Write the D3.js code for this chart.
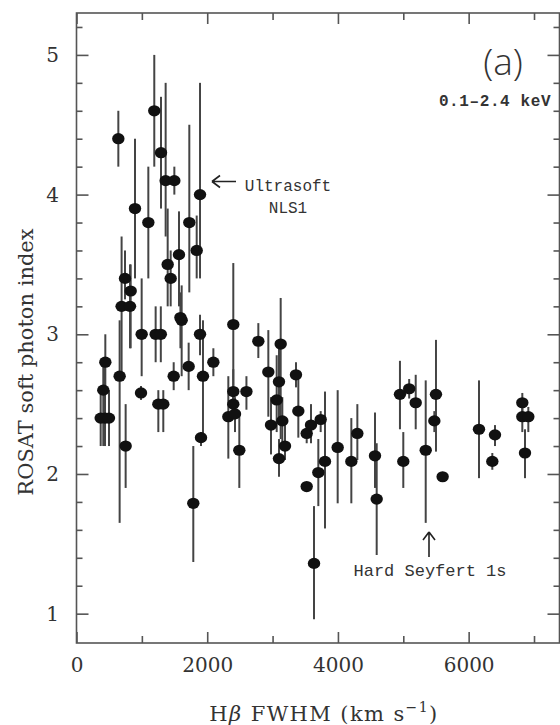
<!DOCTYPE html>
<html>
<head>
<meta charset="utf-8">
<script src="https://cdn.jsdelivr.net/npm/d3@7"></script>
<style>
  body { margin: 0; background: #fff; }
</style>
</head>
<body>
<div id="area1"></div>
<script>
const w1 = 560;
const h1 = 725;

// Data: H-beta FWHM (km/s), ROSAT photon index, error bar ends
const fwhm = [640, 1190, 1293, 1364, 1497, 1890, 895, 1099, 1726, 1839,
              1568, 1395, 1441, 742, 829, 690, 819, 1609, 1590, 997,
              1211, 1290, 1890, 2399, 2782, 3124, 441, 660, 987, 1487,
              1716, 1935, 2094, 410, 370, 436, 497, 752, 1252, 1328,
              1905, 1787, 2323, 2399, 2399, 2425, 2491, 2600, 2935, 2976,
              3063, 3098, 3149, 3098, 3190, 3358, 3394, 3522, 3588, 3736,
              3522, 3700, 3802, 3634, 3996, 4205, 4297, 4567, 4593, 4949,
              5000, 5090, 5190, 5343, 5500, 5475, 5602, 6158, 6403, 6362,
              6821, 6821, 6913, 6862];
const photonIndex = [4.40, 4.60, 4.30, 4.10, 4.10, 4.00, 3.90, 3.80, 3.80, 3.60,
                     3.57, 3.50, 3.40, 3.40, 3.31, 3.20, 3.20, 3.10, 3.12, 3.00,
                     3.00, 3.00, 3.00, 3.07, 2.95, 2.93, 2.80, 2.70, 2.58, 2.70,
                     2.77, 2.70, 2.80, 2.60, 2.40, 2.40, 2.40, 2.20, 2.50, 2.50,
                     2.26, 1.79, 2.41, 2.59, 2.50, 2.43, 2.17, 2.59, 2.73, 2.35,
                     2.53, 2.66, 2.38, 2.11, 2.20, 2.71, 2.45, 2.29, 2.35, 2.39,
                     1.91, 2.01, 2.09, 1.36, 2.19, 2.09, 2.29, 2.13, 1.82, 2.57,
                     2.09, 2.61, 2.51, 2.17, 2.57, 2.38, 1.98, 2.32, 2.28, 2.09,
                     2.51, 2.41, 2.41, 2.15];
const errTop = [4.60, 5.00, 4.70, 4.80, 4.20, 4.80, 4.40, 4.20, 4.50, 3.85,
                3.88, 3.90, 3.60, 3.60, 3.50, 3.70, 3.50, 3.35, 3.30, 3.40,
                3.20, 3.20, 3.14, 3.51, 3.08, 3.26, 3.00, 3.10, 2.63, 2.80,
                2.94, 3.10, 2.90, 2.80, 2.60, 2.80, 2.60, 2.50, 2.60, 2.60,
                2.30, 2.20, 2.70, 2.75, 2.60, 2.55, 2.44, 2.70, 3.03, 2.55,
                2.85, 2.90, 2.55, 2.25, 2.35, 2.80, 2.70, 2.35, 2.50, 2.45,
                1.91, 2.25, 2.59, 1.77, 2.60, 2.40, 2.50, 2.44, 2.22, 2.81,
                2.30, 2.68, 2.71, 2.67, 2.96, 2.45, 1.98, 2.67, 2.35, 2.15,
                2.58, 2.50, 2.48, 2.32];
const errBottom = [4.20, 4.20, 3.90, 3.70, 4.00, 3.40, 3.40, 3.40, 3.30, 3.40,
                   3.20, 3.20, 3.20, 3.25, 2.90, 2.70, 2.90, 2.70, 2.90, 2.70,
                   2.80, 2.80, 2.85, 2.40, 2.83, 2.25, 2.60, 1.65, 2.53, 2.60,
                   2.60, 2.25, 2.70, 2.20, 2.20, 2.20, 2.20, 1.90, 2.30, 2.30,
                   2.20, 1.37, 2.11, 2.45, 2.40, 2.30, 1.90, 2.46, 2.41, 2.14,
                   2.30, 2.40, 2.20, 1.98, 2.10, 2.62, 2.26, 2.22, 2.22, 2.30,
                   1.91, 1.77, 1.61, 0.96, 1.79, 1.79, 2.10, 1.90, 1.42, 2.32,
                   1.90, 2.54, 2.32, 1.65, 2.16, 2.30, 1.98, 1.97, 2.20, 2.03,
                   2.40, 2.30, 2.30, 1.97];

// Tick values
const xMajorTicks = [0, 2000, 4000, 6000];
const xMinorTicks = [1000, 3000, 5000, 7000];
const yMajorTicks = [1, 2, 3, 4, 5];
const yMinorTicks = [1.2, 1.4, 1.6, 1.8, 2.2, 2.4, 2.6, 2.8, 3.2, 3.4, 3.6, 3.8,
                     4.2, 4.4, 4.6, 4.8, 5.2];

let dataset1 = fwhm.map((f, i) => ({
    fwhm: f,
    gamma: photonIndex[i],
    hi: errTop[i],
    lo: errBottom[i]
}));

// Scales
const x = d3.scaleLinear().domain([0, 7390]).range([76.5, 559.5]);
const y = d3.scaleLinear().domain([0.79, 5.3]).range([643, 13]);

// Create SVG element
let svg1 = d3.select("#area1")
            .append("svg")
            .attr("width", w1)
            .attr("height", h1)
            .style("font-family", "'DejaVu Serif', serif");

const frameColor = "#555";

// Frame
svg1.append("rect")
    .attr("x", x.range()[0])
    .attr("y", y.range()[1])
    .attr("width", x.range()[1] - x.range()[0])
    .attr("height", y.range()[0] - y.range()[1])
    .attr("fill", "none")
    .attr("stroke", frameColor)
    .attr("stroke-width", 1.6);

function styleAxis(g) {
    g.select(".domain").remove();
    g.selectAll("line").attr("stroke", frameColor).attr("stroke-width", 1.6);
    g.selectAll("text")
        .attr("fill", "#333")
        .style("font-size", "20px")
        .style("font-family", "'DejaVu Serif', serif");
}

// Bottom axis (inward ticks)
svg1.append("g")
    .attr("transform", "translate(0," + y.range()[0] + ")")
    .call(d3.axisBottom(x).tickValues(xMajorTicks).tickSize(-11).tickPadding(15)
        .tickFormat(d3.format("d")))
    .call(styleAxis);
svg1.append("g")
    .attr("transform", "translate(0," + y.range()[0] + ")")
    .call(d3.axisBottom(x).tickValues(xMinorTicks).tickSize(-7).tickFormat(""))
    .call(styleAxis);

// Top axis
svg1.append("g")
    .attr("transform", "translate(0," + y.range()[1] + ")")
    .call(d3.axisTop(x).tickValues(xMajorTicks).tickSize(-11).tickFormat(""))
    .call(styleAxis);
svg1.append("g")
    .attr("transform", "translate(0," + y.range()[1] + ")")
    .call(d3.axisTop(x).tickValues(xMinorTicks).tickSize(-7).tickFormat(""))
    .call(styleAxis);

// Left axis
svg1.append("g")
    .attr("transform", "translate(" + x.range()[0] + ",0)")
    .call(d3.axisLeft(y).tickValues(yMajorTicks).tickSize(-12).tickPadding(17.5)
        .tickFormat(d3.format("d")))
    .call(styleAxis);
svg1.append("g")
    .attr("transform", "translate(" + x.range()[0] + ",0)")
    .call(d3.axisLeft(y).tickValues(yMinorTicks).tickSize(-6).tickFormat(""))
    .call(styleAxis);

// Right axis
svg1.append("g")
    .attr("transform", "translate(" + x.range()[1] + ",0)")
    .call(d3.axisRight(y).tickValues(yMajorTicks).tickSize(-12).tickFormat(""))
    .call(styleAxis);
svg1.append("g")
    .attr("transform", "translate(" + x.range()[1] + ",0)")
    .call(d3.axisRight(y).tickValues(yMinorTicks).tickSize(-6).tickFormat(""))
    .call(styleAxis);

// Error bars
svg1.append("g")
    .selectAll("line")
    .data(dataset1.filter(d => d.hi > d.lo))
    .enter()
    .append("line")
    .attr("x1", d => x(d.fwhm))
    .attr("x2", d => x(d.fwhm))
    .attr("y1", d => y(d.hi))
    .attr("y2", d => y(d.lo))
    .attr("stroke", "#444")
    .attr("stroke-width", 2);

// Points
svg1.append("g")
    .selectAll("ellipse")
    .data(dataset1)
    .enter()
    .append("ellipse")
    .attr("cx", d => x(d.fwhm))
    .attr("cy", d => y(d.gamma))
    .attr("rx", 6.2)
    .attr("ry", 5.6)
    .attr("fill", "#111");

// Axis titles
svg1.append("text")
    .attr("transform", "translate(33,362) rotate(-90)")
    .attr("text-anchor", "middle")
    .attr("fill", "#333")
    .style("font-size", "21px")
    .text("ROSAT soft photon index");

let xTitle = svg1.append("text")
    .attr("x", 324)
    .attr("y", 721)
    .attr("text-anchor", "middle")
    .attr("fill", "#333")
    .style("font-size", "21px")
    .style("letter-spacing", "1.4px");
xTitle.append("tspan").text("H");
xTitle.append("tspan").style("font-style", "italic").text("β");
xTitle.append("tspan").text(" FWHM (km s");
xTitle.append("tspan").attr("dy", -9).style("font-size", "14px").text("−1");
xTitle.append("tspan").attr("dy", 9).text(")");

// Panel label
svg1.append("text")
    .attr("x", 503)
    .attr("y", 75)
    .attr("text-anchor", "middle")
    .attr("fill", "#333")
    .style("font-family", "'Open Sans', sans-serif")
    .style("font-weight", 300)
    .style("font-size", "37px")
    .text("(a)");

svg1.append("text")
    .attr("x", 495)
    .attr("y", 106)
    .attr("text-anchor", "middle")
    .attr("fill", "#333")
    .style("font-family", "'Liberation Mono', monospace")
    .style("font-weight", "bold")
    .style("font-size", "16px")
    .style("letter-spacing", "0.6px")
    .text("0.1–2.4 keV");

// Annotations
const mono = "'Liberation Mono', monospace";
svg1.append("text")
    .attr("x", 288).attr("y", 191)
    .attr("text-anchor", "middle")
    .attr("fill", "#333")
    .style("font-family", mono)
    .style("font-size", "16px")
    .text("Ultrasoft");
svg1.append("text")
    .attr("x", 288).attr("y", 213)
    .attr("text-anchor", "middle")
    .attr("fill", "#333")
    .style("font-family", mono)
    .style("font-size", "16px")
    .text("NLS1");

// left arrow
svg1.append("path")
    .attr("d", "M212,181.5 H236 M212,181.5 l8,-6 M212,181.5 l8,6")
    .attr("fill", "none")
    .attr("stroke", "#222")
    .attr("stroke-width", 1.6);

// up arrow
svg1.append("path")
    .attr("d", "M429,532 V557 M429,532 l-6,8 M429,532 l6,8")
    .attr("fill", "none")
    .attr("stroke", "#222")
    .attr("stroke-width", 1.6);

svg1.append("text")
    .attr("x", 430).attr("y", 576)
    .attr("text-anchor", "middle")
    .attr("fill", "#333")
    .style("font-family", mono)
    .style("font-size", "17px")
    .text("Hard Seyfert 1s");
</script>
</body>
</html>
